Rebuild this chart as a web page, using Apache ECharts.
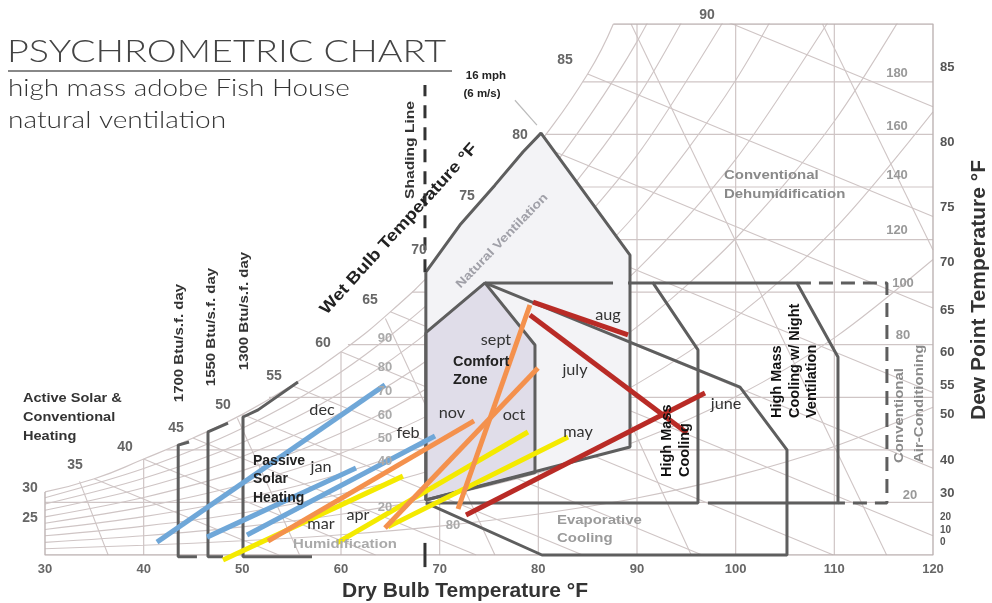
<!DOCTYPE html>
<html><head><meta charset="utf-8">
<script src="https://cdn.jsdelivr.net/npm/echarts@6/dist/echarts.min.js"></script>
<style>html,body{margin:0;padding:0;background:#fff}#c{width:992px;height:603px}</style>
</head><body><div id="c"></div>
<script>
// ================= DATA (dry bulb °F, humidity ratio grains/lb) =================
const dryBulbTicks = [30,40,50,60,70,80,90,100,110,120];
const dewPointLabels = ['85','80','75','70','65','60','55','50','40','30','20','10','0'];
const dewPointGrains = [185.6,157.1,132.4,111.4,93.2,77.2,64.7,53.3,36.1,23.6,14.5,9.5,4.9];

const months      = ['dec','jan','feb','mar','apr','may','june','july','aug','sept','oct','nov'];
const monthSeason = ['winter','winter','winter','spring','spring','spring','summer','summer','summer','autumn','autumn','autumn'];
const monthStart  = [[41.35,4.9],[46.42,6.8],[50.47,7.6],[48.04,-1.9],[59.59,4.6],[64.76,10.7],[72.67,15.2],[79.15,91.3],[79.46,96.2],[71.86,17.5],[64.46,10.3],[52.60,5.3]];
const monthEnd    = [[64.46,64.7],[61.52,33.1],[69.53,45.3],[66.28,30.0],[78.95,46.8],[83.01,44.9],[96.89,61.6],[95.07,46.4],[89.09,83.7],[79.15,95.1],[79.96,71.1],[73.48,51.0]];

// saturation curve
const satTemp   = [30,35,40,45,50,55,60,65,70,75,80,85,87.6];
const satGrains = [24,29,36.5,44.5,53.5,64.5,77.3,92.5,110.5,131.5,156,183,202];
// relative humidity curves at dry bulb 30..120 step 10
const rhTemps = [30,40,50,60,70,80,90,100,110,120];
const rh10 = [2.4,3.7,5.4,7.7,11.0,15.6,21.7,30.1,41.3,56.2];
const rh20 = [4.8,7.3,10.7,15.5,22.1,31.2,43.4,60.2,82.6,112.4];
const rh30 = [7.3,11.0,16.0,23.2,33.2,46.8,65.1,90.3,124,168.6];
const rh40 = [9.7,14.6,21.4,30.9,44.2,62.4,86.8,120.4,165,225];
const rh50 = [12.1,18.3,26.8,38.7,55.3,78,108.5,150.5,206.5];
const rh60 = [14.5,21.9,32.1,46.4,66.3,93.6,130.2,180.6,248];
const rh70 = [17,25.6,37.5,54.1,77.4,109.2,152,210.7];
const rh80 = [19.4,29.2,42.8,61.8,88.4,124.8,173.6,241];
const rh90 = [21.8,32.9,48.2,69.6,99.5,140.4,195.3,271];
// wet bulb lines (start on saturation, end)
const wetBulbLines = [
  [[35,29],[53.7,0]],[[40,36.5],[63.5,0]],[[45,44.5],[73.7,0]],[[50,53.5],[84.5,0]],
  [[55,64.5],[96.6,0]],[[60,77.3],[109.9,0]],[[65,92.5],[120,7.3]],[[70,110.5],[120,33]],
  [[75,131.5],[120,61.8]],[[80,156],[120,94]],[[85,183],[120,128.8]],[[90,217],[120,170.5]]
];
// specific volume lines
const volumeLines = [
  [[33.5,28],[36.4,0]],[[49.5,52],[55.8,0]],[[64.5,90],[75.6,0]],
  [[77.7,145],[95.5,0]],[[89.4,202],[115.3,0]],[[108.8,202],[120,116]]
];
// horizontal humidity lines: [grains, start dry bulb]
const humidityLines = [[20,30],[40,42.3],[60,52.7],[80,60.7],[100,67.2],[120,72.3],[140,76.8],[160,80.7],[180,84.5]];
// vertical dry bulb lines: [dry bulb, top grains]
const dryBulbLines = [[40,36.5],[50,53.5],[60,77.3],[70,110.5],[80,156],[90,202],[100,202],[110,202]];
const chartBorder = [[87.6,202],[120,202],[120,0],[30,0],[30,24]];

// design zones
const natVentZone   = [[68.6,107.6],[72.05,125.5],[75.6,140.7],[78.44,153.3],[80.27,160.5],[89.29,114.1],[89.29,41.1],[68.6,20.9],[68.6,107.6]];
const comfortZone   = [[68.6,84.6],[74.59,103.5],[79.66,79.9],[79.66,31.4],[68.6,20.9],[68.6,84.6]];
const highMassTop   = [[74.59,103.5],[87.57,103.5]];
const highMassZone  = [[89.09,103.5],[91.62,103.5],[96.18,78.0],[96.18,19.8],[68.6,19.8]];
const nightVentZone = [[91.62,103.5],[106.21,103.5],[110.37,75.3],[110.37,19.8],[97.19,19.8]];
const acZone        = [[106.21,103.5],[115.33,103.5],[115.33,19.8],[110.37,19.8]];
const evapZone      = [[74.59,103.5],[100.44,63.9],[105.2,40.0],[105.2,0],[80.37,0],[68.6,19.8]];
const heat1700      = [[44.6,43.0],[43.5,41.8],[43.5,-0.7],[45.4,-0.7]];
const heat1550      = [[48.55,50.2],[46.52,46.8],[46.52,-0.7],[48.04,-0.7]];
const heat1300      = [[55.64,65.8],[51.6,55.2],[50.07,52.5],[50.07,-0.7],[57.06,-0.7]];
const shadingLine   = [[68.51,107.6],[68.51,178.8]];
const shadingTick   = [[68.51,4.6],[68.51,-4.6]];
const windLine      = [[77.63,173],[79.86,163.5]];

// ================= STYLE / LAYOUT =================
const seasonColor = {winter:'#6fa7d8', spring:'#f4ea00', summer:'#b92b26', autumn:'#f4914d'};
const gridColor = '#cfc5c5';
const zoneColor = '#5e5e5e';
const SANS = '"Liberation Sans", Arial, sans-serif';
const GEO = 'Lato, "Noto Sans", sans-serif';

function lineS(data, color, width, z, o) {
  o = o || {};
  return {type:'line', data:data, symbol:'none', silent:true, z:z, animation:false,
    clip: o.clip === undefined ? true : o.clip, smooth: o.smooth || false,
    lineStyle:{color:color, width:width, type:o.dash || 'solid', cap:o.cap || 'butt'}};
}
function polyS(points, fill, z) {
  return {type:'custom', coordinateSystem:'cartesian2d', z:z, silent:true, data:[0], animation:false,
    renderItem:function(p, api){ return {type:'polygon', shape:{points:points.map(function(pt){return api.coord(pt);})}, style:{fill:fill}}; }};
}

const series = [];
// background grid
series.push(lineS(satTemp.map(function(t,i){return [t,satGrains[i]];}), gridColor, 1.2, 1, {smooth:true}));
[rh10,rh20,rh30,rh40,rh50,rh60,rh70,rh80,rh90].forEach(function(c){
  series.push(lineS(c.map(function(g,i){return [rhTemps[i],g];}), gridColor, 1.1, 1, {smooth:0.3}));
});
wetBulbLines.forEach(function(l){ series.push(lineS(l, gridColor, 1.1, 1)); });
volumeLines.forEach(function(l){ series.push(lineS(l, gridColor, 1.1, 1)); });
humidityLines.forEach(function(h){ series.push(lineS([[h[1],h[0]],[120,h[0]]], gridColor, 1.2, 1)); });
dryBulbLines.forEach(function(v){ series.push(lineS([[v[0],0],[v[0],v[1]]], gridColor, 1.2, 1)); });
series.push(lineS(chartBorder, '#bdb3b3', 1.4, 1));
series.push(lineS(windLine, '#bbb', 1.2, 1));
// zone fills
series.push(polyS(natVentZone, '#f3f3f6', 2));
series.push(polyS(comfortZone, '#e0dde9', 2));
// zone outlines
[natVentZone, comfortZone, highMassTop, highMassZone, nightVentZone, evapZone, heat1700, heat1550, heat1300].forEach(function(z){
  series.push(lineS(z, zoneColor, 3, 3, {clip:false}));
});
series.push(lineS(acZone, zoneColor, 3, 3, {dash:[14,8], clip:false}));
series.push(lineS(shadingLine, '#333', 3, 3, {dash:[13,9], clip:false}));
series.push(lineS(shadingTick, '#333', 3, 3, {clip:false}));
// month lines
months.forEach(function(m,i){
  series.push(lineS([monthStart[i], monthEnd[i]], seasonColor[monthSeason[i]], 5, 5, {clip:false}));
});

// ---------- text annotations (pixel layout) ----------
const G = [];
function T(text, x, y, o) {
  o = o || {};
  G.push({type:'text', x:x, y:y, rotation:(o.rot || 0) * Math.PI / 180, scaleX:o.sx || 1, silent:true, z:100,
    style:{text:text, fill:o.color || '#333', fontSize:o.size || 12, fontWeight:o.weight || 'normal',
      fontFamily:o.family || SANS, align:o.align || 'center', verticalAlign:o.va || 'middle'}});
}
G.push({type:'line', silent:true, shape:{x1:8,y1:71,x2:452,y2:71}, style:{stroke:'#888', lineWidth:2}});
T('PSYCHROMETRIC CHART', 7, 52, {size:31, family:GEO, weight:300, color:'#444', align:'left', sx:1.22});
T('high mass adobe Fish House', 8, 88, {size:24, family:GEO, weight:300, color:'#333', align:'left', sx:1.16});
T('natural ventilation', 8, 120, {size:24, family:GEO, weight:300, color:'#333', align:'left', sx:1.17});
// axis titles
T('Dry Bulb Temperature °F', 465, 591, {size:21, weight:'bold', color:'#333'});
T('Dew Point Temperature °F', 979, 290, {size:21, weight:'bold', color:'#333', rot:90});
// wet bulb labels along saturation
[['25',30,518],['30',30,488],['35',75,465],['40',125,447],['45',176,428],['50',223,405],['55',274,376],['60',323,343],
 ['65',370,300],['70',419,250],['75',467,196],['80',520,135],['85',565,60],['90',707,15]].forEach(function(a){
  T(a[0], a[1], a[2], {size:14, weight:'bold', color:'#666'});
});
// RH labels
[['90',385,338],['80',385,367],['70',385,391],['60',385,415],['50',385,438],['40',385,461],['20',385,507],['80',453,525]].forEach(function(a){
  T(a[0], a[1], a[2], {size:13, weight:'bold', color:'#aaa'});
});
// humidity ratio labels
[['180',897,73],['160',897,126],['140',897,175],['120',897,230],['100',903,283],['80',903,335],['20',910,495]].forEach(function(a){
  T(a[0], a[1], a[2], {size:13, weight:'bold', color:'#999'});
});
// zone labels
T('Wet Bulb Temperature °F', 399, 229, {size:16.5, weight:'bold', color:'#222', rot:47.7, sx:1.15});
T('Natural Ventilation', 502, 241, {size:12, weight:'bold', color:'#a0a0a8', rot:46, sx:1.2});
T('Shading Line', 411, 150, {size:12, weight:'bold', color:'#333', rot:90, sx:1.3});
T('16 mph', 486, 76, {size:11.5, weight:'bold', color:'#222'});
T('(6 m/s)', 482, 94, {size:11.5, weight:'bold', color:'#222'});
T('1700 Btu/s.f. day', 180, 343, {size:12.5, weight:'bold', color:'#333', rot:90, sx:1.2});
T('1550 Btu/s.f. day', 212, 327, {size:12.5, weight:'bold', color:'#333', rot:90, sx:1.2});
T('1300 Btu/s.f. day', 245, 311, {size:12.5, weight:'bold', color:'#333', rot:90, sx:1.2});
T('Active Solar &', 23, 398, {size:13, weight:'bold', color:'#333', align:'left', sx:1.12});
T('Conventional', 23, 417, {size:13, weight:'bold', color:'#333', align:'left', sx:1.12});
T('Heating', 23, 436, {size:13, weight:'bold', color:'#333', align:'left', sx:1.12});
T('Passive', 253, 461, {size:14, weight:'bold', color:'#222', align:'left'});
T('Solar', 253, 479, {size:14, weight:'bold', color:'#222', align:'left'});
T('Heating', 253, 498, {size:14, weight:'bold', color:'#222', align:'left'});
T('Comfort', 453, 362, {size:14.5, weight:'bold', color:'#222', align:'left'});
T('Zone', 453, 380, {size:14.5, weight:'bold', color:'#222', align:'left'});
T('Conventional', 724, 175, {size:13, weight:'bold', color:'#8a8a8a', align:'left', sx:1.15});
T('Dehumidification', 724, 194, {size:13, weight:'bold', color:'#8a8a8a', align:'left', sx:1.15});
T('High Mass', 667, 477, {size:14.5, weight:'bold', color:'#111', rot:90, align:'left'});
T('Cooling', 685, 477, {size:14.5, weight:'bold', color:'#111', rot:90, align:'left'});
T('High Mass', 777, 418, {size:14.5, weight:'bold', color:'#111', rot:90, align:'left'});
T('Cooling w/ Night', 795, 418, {size:14.5, weight:'bold', color:'#111', rot:90, align:'left'});
T('Ventilation', 812, 418, {size:14.5, weight:'bold', color:'#111', rot:90, align:'left'});
T('Conventional', 900, 463, {size:12, weight:'bold', color:'#8a8a8a', rot:90, align:'left', sx:1.25});
T('Air-Conditioning', 920, 463, {size:12, weight:'bold', color:'#8a8a8a', rot:90, align:'left', sx:1.25});
T('Evaporative', 557, 520, {size:13, weight:'bold', color:'#9a9a9a', align:'left', sx:1.15});
T('Cooling', 557, 538, {size:13, weight:'bold', color:'#9a9a9a', align:'left', sx:1.15});
T('Humidification', 345, 544, {size:13, weight:'bold', color:'#aaa', sx:1.15});
// month labels
const monthLabelPos = {dec:[322,410], jan:[321,467], feb:[408,433], mar:[321,524], apr:[358,515], may:[578,432],
  june:[726,404], july:[575,370], aug:[608,315], sept:[496,340], oct:[514,415], nov:[452,413]};
months.forEach(function(m){ T(m, monthLabelPos[m][0], monthLabelPos[m][1], {size:15, family:GEO, color:'#333', sx:1.08}); });

const chart = echarts.init(document.getElementById('c'), null, {renderer:'canvas'});
chart.setOption({
  animation:false,
  backgroundColor:'#fff',
  grid:{left:45, right:59, top:24, bottom:48, containLabel:false},
  xAxis:{type:'value', min:dryBulbTicks[0], max:dryBulbTicks[dryBulbTicks.length-1], interval:10,
    axisLine:{show:false}, axisTick:{show:false}, splitLine:{show:false},
    axisLabel:{fontSize:13, fontWeight:'bold', color:'#666', margin:8, fontFamily:SANS}},
  yAxis:{type:'value', position:'right', min:0, max:202,
    axisLine:{show:false}, axisTick:{show:false}, splitLine:{show:false},
    axisLabel:{customValues:dewPointGrains, margin:7, fontSize:13, fontWeight:'bold', color:'#555', fontFamily:SANS,
      formatter:function(v){ var i = dewPointGrains.indexOf(v); if (i < 0) return ''; return i >= 10 ? '{s|' + dewPointLabels[i] + '}' : dewPointLabels[i]; },
      rich:{s:{fontSize:10, fontWeight:'bold', color:'#555', fontFamily:SANS}}}},
  series:series,
  graphic:G
});
</script></body></html>
